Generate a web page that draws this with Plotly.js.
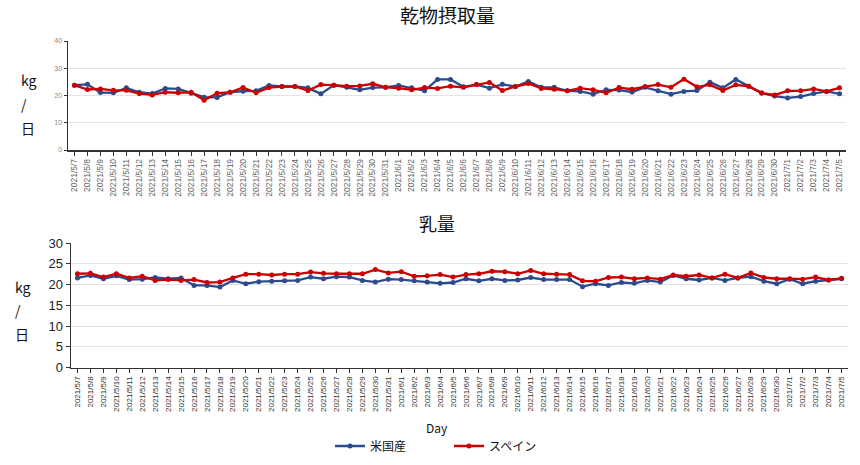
<!DOCTYPE html>
<html>
<head>
<meta charset="utf-8">
<script src="https://cdn.plot.ly/plotly-3.0.1.min.js"></script>
<style>html,body{margin:0;padding:0;background:#fff;}#chart{width:860px;height:465px;}</style>
</head>
<body>
<div id="chart"></div>
<script>
const days = [
  "2021/5/7","2021/5/8","2021/5/9","2021/5/10","2021/5/11","2021/5/12","2021/5/13","2021/5/14","2021/5/15","2021/5/16",
  "2021/5/17","2021/5/18","2021/5/19","2021/5/20","2021/5/21","2021/5/22","2021/5/23","2021/5/24","2021/5/25","2021/5/26",
  "2021/5/27","2021/5/28","2021/5/29","2021/5/30","2021/5/31","2021/6/1","2021/6/2","2021/6/3","2021/6/4","2021/6/5",
  "2021/6/6","2021/6/7","2021/6/8","2021/6/9","2021/6/10","2021/6/11","2021/6/12","2021/6/13","2021/6/14","2021/6/15",
  "2021/6/16","2021/6/17","2021/6/18","2021/6/19","2021/6/20","2021/6/21","2021/6/22","2021/6/23","2021/6/24","2021/6/25",
  "2021/6/26","2021/6/27","2021/6/28","2021/6/29","2021/6/30","2021/7/1","2021/7/2","2021/7/3","2021/7/4","2021/7/5"
];
const seriesNames = ["米国産", "スペイン"];
// 乾物摂取量 (kg/日)
const dmiUS = [
  23.8,24.1,21.1,21.0,22.8,21.2,20.7,22.6,22.4,20.8,
  19.4,19.3,21.2,21.6,21.7,23.7,23.3,23.3,22.8,20.6,
  23.8,23.0,22.1,22.9,23.0,23.7,22.8,21.7,25.9,25.9,
  23.2,24.0,22.7,24.1,23.3,25.1,23.0,23.0,21.7,21.5,
  20.5,22.1,22.0,21.3,23.0,21.7,20.5,21.5,21.8,24.9,
  22.8,25.9,23.4,20.9,19.8,19.1,19.6,20.7,21.5,20.6
];
const dmiES = [
  23.8,22.2,22.4,21.9,21.9,20.7,20.2,21.2,21.0,21.2,
  18.3,20.8,21.2,22.9,21.0,22.9,23.3,23.3,21.8,24.0,
  23.8,23.4,23.5,24.3,23.0,22.7,22.1,22.9,22.6,23.4,
  23.0,24.0,24.8,21.8,23.3,24.4,22.6,22.3,21.7,22.7,
  22.1,21.0,22.9,22.3,23.3,24.0,23.0,26.0,23.2,23.9,
  21.8,23.9,23.4,20.9,20.2,21.7,21.7,22.4,21.5,22.8
];
// 乳量 (kg/日)
const milkUS = [
  21.6,22.2,21.4,22.1,21.2,21.3,21.7,21.4,21.6,19.8,
  19.8,19.4,21.0,20.2,20.7,20.8,20.9,21.0,21.8,21.4,
  21.9,21.8,21.0,20.6,21.3,21.2,20.9,20.6,20.3,20.5,
  21.4,20.9,21.4,21.0,21.1,21.7,21.2,21.2,21.2,19.5,
  20.2,19.8,20.5,20.3,21.0,20.6,22.2,21.4,21.1,21.6,
  21.0,21.6,21.9,20.8,20.2,21.3,20.2,20.8,21.1,21.4
];
const milkES = [
  22.6,22.7,21.8,22.6,21.6,22.0,21.0,21.2,21.0,21.2,
  20.5,20.6,21.6,22.5,22.5,22.3,22.5,22.5,23.0,22.7,
  22.6,22.6,22.6,23.6,22.8,23.1,22.0,22.1,22.4,21.8,
  22.4,22.6,23.2,23.1,22.6,23.4,22.6,22.5,22.4,20.9,
  20.8,21.7,21.8,21.4,21.6,21.3,22.3,22.0,22.3,21.6,
  22.5,21.6,22.8,21.7,21.4,21.4,21.3,21.8,21.1,21.5
];

const blue = "#2b4b8c", red = "#cc0000";
function tr(y, name, color, xa, ya, show) {
  return {x: days, y: y, name: name, type: "scatter", mode: "lines+markers",
    xaxis: xa, yaxis: ya, showlegend: show,
    line: {color: color, width: 2.3}, marker: {color: color, size: 5}};
}
const data = [
  tr(dmiUS, seriesNames[0], blue, "x", "y", true),
  tr(dmiES, seriesNames[1], red, "x", "y", true),
  tr(milkUS, seriesNames[0], blue, "x2", "y2", false),
  tr(milkES, seriesNames[1], red, "x2", "y2", false)
];
const W = 860, H = 465;
const px = v => v / W, py = v => 1 - v / H;
const latin = "Liberation Sans, Arial, sans-serif";
const cjk = "Noto Sans CJK JP, sans-serif";
function ann(text, x, y, size, xanchor) {
  return {text: text, x: px(x), y: py(y), xref: "paper", yref: "paper", showarrow: false,
    xanchor: xanchor || "center", yanchor: "middle", font: {family: cjk, size: size, color: "#111"}};
}
const layout = {
  width: W, height: H, margin: {l: 0, r: 0, t: 0, b: 0},
  paper_bgcolor: "#fff", plot_bgcolor: "#fff",
  font: {family: cjk, color: "#222"},
  xaxis: {domain: [px(68), px(846)], anchor: "y", type: "category", range: [-0.5, 59.5],
    tickangle: -90, tickfont: {family: latin, size: 8.5, color: "#666"},
    ticks: "outside", ticklen: 4, tickcolor: "#333",
    showline: true, linecolor: "#333", linewidth: 1.5, showgrid: false},
  yaxis: {domain: [py(150), py(41)], anchor: "x", range: [0, 40], dtick: 10,
    tickfont: {family: latin, size: 7, color: "#888"},
    ticks: "outside", ticklen: 3, tickcolor: "#333",
    showline: true, linecolor: "#333", linewidth: 1.5, gridcolor: "#e3e3e3", zeroline: false},
  xaxis2: {domain: [px(71), px(848)], anchor: "y2", type: "category", range: [-0.5, 59.5],
    tickangle: -90, tickfont: {family: latin, size: 8, color: "#333"},
    ticks: "outside", ticklen: 4, tickcolor: "#333",
    showline: true, linecolor: "#333", linewidth: 1.5, showgrid: false},
  yaxis2: {domain: [py(367.7), py(243)], anchor: "x2", range: [0, 30], dtick: 5,
    tickfont: {family: latin, size: 13, color: "#222"},
    ticks: "outside", ticklen: 4, tickcolor: "#333",
    showline: true, linecolor: "#333", linewidth: 1.5, gridcolor: "#e3e3e3", zeroline: false},
  showlegend: true,
  legend: {orientation: "h", x: px(330), xanchor: "left", y: py(446), yanchor: "middle",
    entrywidth: 74, entrywidthmode: "pixels",
    font: {family: cjk, size: 12, color: "#111"}, itemwidth: 30, tracegroupgap: 0},
  annotations: [
    ann("乾物摂取量", 447, 14, 19),
    ann("乳量", 437, 223, 18),
    ann("kg", 19, 80, 14, "left"),
    ann("/", 19, 104, 14, "left"),
    ann("日", 19, 128, 14, "left"),
    ann("kg", 13, 287, 14, "left"),
    ann("/", 13, 310, 14, "left"),
    ann("日", 13, 334, 14, "left"),
    ann("Day", 437, 427, 12)
  ]
};
Plotly.newPlot("chart", data, layout, {displayModeBar: false, staticPlot: true});
</script>
</body>
</html>
